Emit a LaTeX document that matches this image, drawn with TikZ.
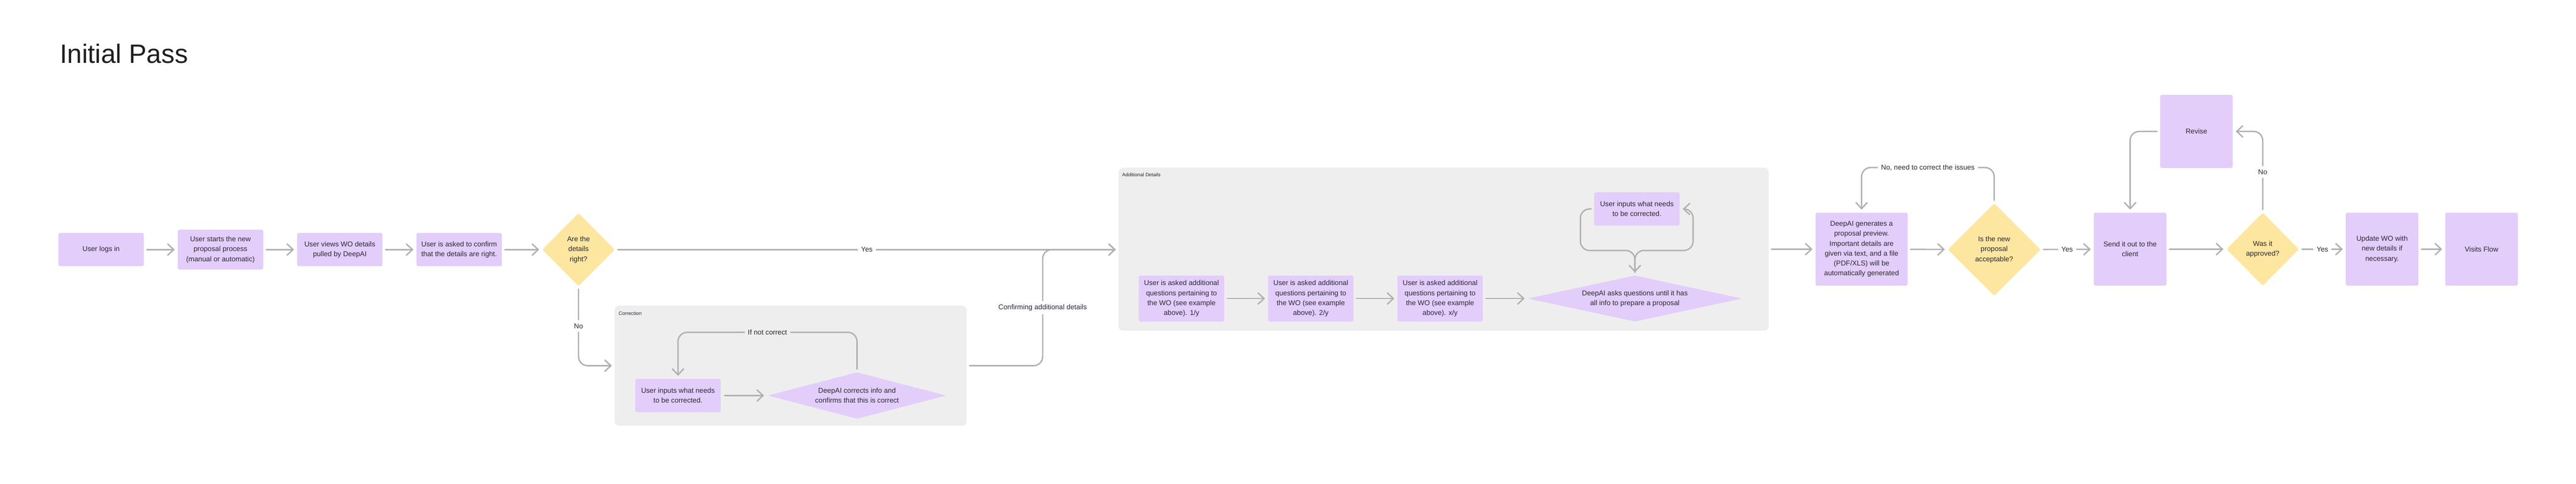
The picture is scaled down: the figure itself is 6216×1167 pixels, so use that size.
\documentclass[tikz,border=0pt]{standalone}
\usepackage{fontspec}
\setmainfont{Liberation Sans}
\usetikzlibrary{positioning,arrows.meta,shapes.geometric}

\definecolor{boxpurple}{HTML}{E3CDFB}
\definecolor{askyellow}{HTML}{FDE69F}
\definecolor{groupgray}{HTML}{EEEEEE}
\definecolor{linegray}{HTML}{B0B0B0}
\definecolor{inktext}{HTML}{2B2735}

\begin{document}
\begin{tikzpicture}[x=0.5pt, y=-0.5pt, node distance=144pt,
    every node/.style={text=inktext, font=\fontsize{8.5}{12}\selectfont},
    stepbox/.style={fill=boxpurple, rounded corners=2pt, minimum width=103pt, minimum height=40pt, align=center, inner sep=0pt},
    tallbox/.style={stepbox, minimum width=87.5pt, minimum height=88pt},
    decision/.style={diamond, fill=askyellow, rounded corners=2pt, minimum width=87.5pt, minimum height=88pt, align=center, inner sep=0pt},
    widedecision/.style={diamond, fill=boxpurple, rounded corners=2pt, align=center, inner sep=0pt},
    groupbox/.style={fill=groupgray, draw=black!8, line width=0.5pt, rounded corners=5pt},
    grouptag/.style={font=\fontsize{6}{7}\selectfont, anchor=west, inner sep=0pt},
    flow/.style={draw=linegray, line width=1.65pt, line cap=round, rounded corners=11pt, -{Straight Barb[length=7.5pt, width=14pt]}, shorten >=3.5pt, shorten <=3.5pt},
    linklabel/.style={fill=white, inner sep=4pt}]

    \useasboundingbox[fill=white] (0,0) rectangle (6216,1167);

    \node[font=\fontsize{32}{38}\selectfont, text=black!88, anchor=base west, inner sep=0pt] (title) at (144,152) {Initial Pass};

    % first pass
    \node[stepbox] (login) at (244,602) {User logs in};
    \node[stepbox, right of=login, minimum height=48pt] (start) {User starts the new\\proposal process\\(manual or automatic)};
    \node[stepbox, right of=start] (view) {User views WO details\\pulled by DeepAI};
    \node[stepbox, right of=view] (confirm) {User is asked to confirm\\that the details are right.};
    \node[decision, right of=confirm] (detailsok) {Are the\\details\\right?};

    % correction group
    \node[groupbox, minimum width=424pt, minimum height=144pt] (correction) at (1908,882) {};
    \node[grouptag] (correctiontag) at ([shift={(4.5pt,-9pt)}]correction.north west) {Correction};
    \node[stepbox] (fix) at (1636,954) {User inputs what needs\\to be corrected.};
    \node[widedecision, minimum width=215pt, minimum height=56pt, aspect=3.8] (recheck) at (2068,954) {DeepAI corrects info and\\confirms that this is correct};

    % additional details group
    \node[groupbox, minimum width=783.5pt, minimum height=196pt] (extra) at (3483.5,601) {};
    \node[grouptag] (extratag) at ([shift={(4pt,-8.5pt)}]extra.north west) {Additional Details};
    \node[stepbox, minimum height=55.5pt] (qone) at (2851,720) {User is asked additional\\questions pertaining to\\the WO (see example\\above). 1/y};
    \node[stepbox, minimum height=55.5pt] (qtwo) at (3163,720) {User is asked additional\\questions pertaining to\\the WO (see example\\above). 2/y};
    \node[stepbox, minimum height=55.5pt] (qthree) at (3475,720) {User is asked additional\\questions pertaining to\\the WO (see example\\above). x/y};
    \node[widedecision, minimum width=258.5pt, minimum height=55.5pt, aspect=4.6] (gather) at (3945,720) {DeepAI asks questions until it has\\all info to prepare a proposal};
    \node[stepbox] (reinput) at (3950,504) {User inputs what needs\\to be corrected.};
    \coordinate (split) at ([yshift=30pt]gather.north);

    % proposal
    \node[stepbox, minimum width=111pt, minimum height=88pt] (preview) at (4492,601) {DeepAI generates a\\proposal preview.\\Important details are\\given via text, and a file\\(PDF/XLS) will be\\automatically generated};
    \node[decision, minimum width=112pt, minimum height=111.5pt] (accept) at (4812,602) {Is the new\\proposal\\acceptable?};
    \node[tallbox] (send) at (5140,601) {Send it out to the\\client};
    \node[tallbox] (revise) at (5300,317) {Revise};
    \node[decision] (approved) at (5460,601) {Was it\\approved?};
    \node[tallbox] (update) at (5748,601) {Update WO with\\new details if\\necessary.};
    \node[tallbox] (visits) at (5988,601) {Visits Flow};
    \coordinate (merge) at (2516,602);

    \draw[flow] (login) -- (start);
    \draw[flow] (start) -- (view);
    \draw[flow] (view) -- (confirm);
    \draw[flow] (confirm) -- (detailsok);
    \draw[flow] (detailsok.east) -- node[linklabel]{Yes} (extra.west |- detailsok.east);
    \draw[flow] (detailsok.south) |- node[linklabel, pos=0.25]{No} (correction.west);
    \draw[flow] (correction.east) -| node[linklabel, pos=0.75]{Confirming additional details} (merge) -- (extra.west |- merge);

    \draw[flow, shorten >=4.5pt, shorten <=4.5pt] (fix) -- (recheck);
    \draw[flow] (recheck.north) -- ++(0,-96) -| node[linklabel, fill=groupgray, pos=0.25]{If not correct} (fix.north);

    \draw[flow] (qone) -- (qtwo);
    \draw[flow] (qtwo) -- (qthree);
    \draw[flow] (qthree) -- (gather);
    \draw[flow] (reinput.west) -- ++(-33,0) |- (split) -- (gather.north);
    \draw[flow] (gather.north) -- (split) -| ([xshift=16pt]reinput.east) -- (reinput.east);

    \draw[flow] (extra.east) -- (preview.west);
    \draw[flow] (preview) -- (accept);
    \draw[flow] (accept.north) -- ++(0,-86) -| node[linklabel, pos=0.25]{No, need to correct the issues} (preview.north);
    \draw[flow] (accept) -- node[linklabel]{Yes} (send);
    \draw[flow] (revise.west) -| (send.north);
    \draw[flow] (send) -- (approved);
    \draw[flow] (approved.north) |- node[linklabel, pos=0.25]{No} (revise.east);
    \draw[flow] (approved) -- node[linklabel]{Yes} (update);
    \draw[flow] (update) -- (visits);
\end{tikzpicture}
\end{document}
